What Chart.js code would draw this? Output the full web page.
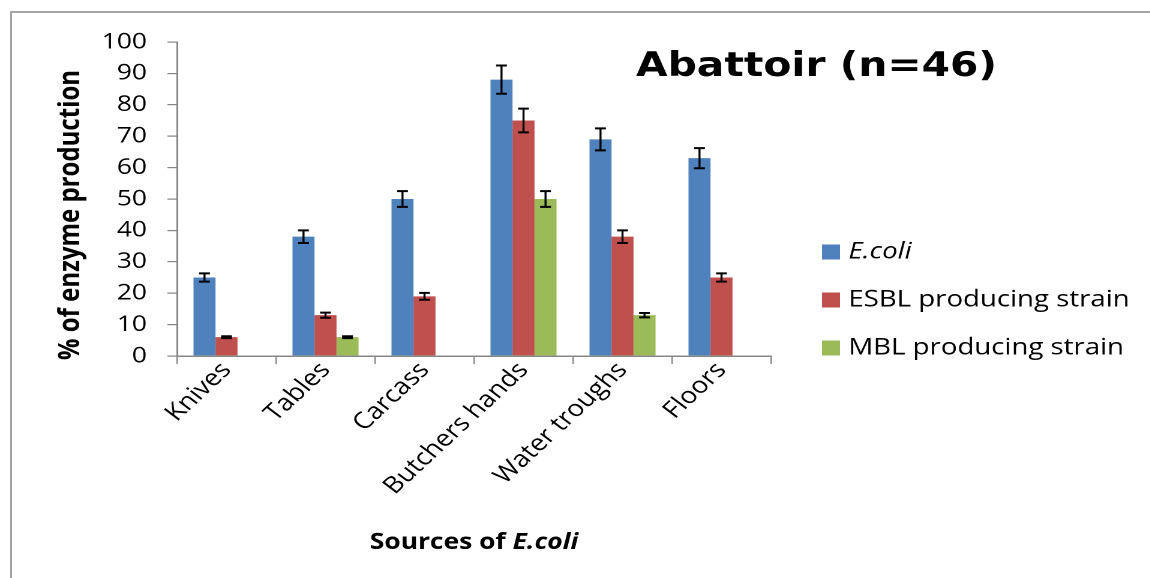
<!DOCTYPE html>
<html>
<head>
<meta charset="utf-8">
<script src="https://cdn.jsdelivr.net/npm/chart.js@4.4.1/dist/chart.umd.min.js"></script>
<style>
  html, body { margin: 0; padding: 0; background: #fff; overflow: hidden; }
  body { width: 1150px; height: 578px; position: relative; }
  #frame {
    position: absolute; left: 10px; top: 11px; width: 1200px; height: 600px;
    border-left: 2px solid #a3a3a3; border-top: 2px solid #a3a3a3;
  }
  /* the reference picture is stretched sideways, so is this one */
  #wrap {
    position: absolute; left: 0; top: 0; width: 958.33px; height: 578px;
    transform: scaleX(1.2); transform-origin: 0 0;
  }
</style>
</head>
<body>
<div id="frame"></div>
<div id="wrap"><canvas id="enzymeChart"></canvas></div>
<script>
const categories = ['Knives', 'Tables', 'Carcass', 'Butchers hands', 'Water troughs', 'Floors'];
const seriesNames = ['E.coli', 'ESBL producing strain', 'MBL producing strain'];
const ecoliValues = [25, 38, 50, 88, 69, 63];
const esblValues = [6, 13, 19, 75, 38, 25];
const mblValues = [0, 6, 0, 50, 13, 0];
const ecoliErrors = [1.3, 2, 2.5, 4.5, 3.5, 3.2];
const esblErrors = [0.3, 0.8, 1.1, 3.8, 2, 1.3];
const mblErrors = [0, 0.3, 0, 2.5, 0.7, 0];
const yMin = 0, yMax = 100, yStep = 10;

const colors = ['#4f81bd', '#c0504d', '#9bbb59'];
const FONT = '"Open Sans", sans-serif';

// error bars, titles and legend drawn on top
const extras = {
    id: 'extras',
    afterDatasetsDraw(chart) {
        const ctx = chart.ctx;
        const y = chart.scales.y;
        ctx.save();
        ctx.strokeStyle = '#000';
        chart.data.datasets.forEach((ds, i) => {
            const meta = chart.getDatasetMeta(i);
            meta.data.forEach((bar, j) => {
                const v = ds.data[j], e = ds.errors[j];
                if (!e) return;
                const top = y.getPixelForValue(v + e);
                const bot = y.getPixelForValue(v - e);
                ctx.lineWidth = 1.7;
                ctx.beginPath();
                ctx.moveTo(bar.x, top);
                ctx.lineTo(bar.x, bot);
                ctx.stroke();
                ctx.lineWidth = 2;
                ctx.beginPath();
                ctx.moveTo(bar.x - 4.5, top); ctx.lineTo(bar.x + 4.5, top);
                ctx.moveTo(bar.x - 4.5, bot); ctx.lineTo(bar.x + 4.5, bot);
                ctx.stroke();
            });
        });
        ctx.restore();
    },
    afterDraw(chart) {
        const ctx = chart.ctx;
        const area = chart.chartArea;
        ctx.save();
        ctx.fillStyle = '#000';

        // chart title
        ctx.font = 'bold 34px "DejaVu Sans"';
        ctx.textAlign = 'left';
        ctx.textBaseline = 'alphabetic';
        ctx.fillText('Abattoir (n=46)', 530, 76);

        // y axis title (sits a bit below the axis middle in the reference)
        ctx.save();
        ctx.translate(59, 215);
        ctx.rotate(-Math.PI / 2);
        ctx.textAlign = 'center';
        ctx.textBaseline = 'middle';
        ctx.font = 'bold 24px ' + FONT;
        ctx.fillText('% of enzyme production', 0, 0);
        ctx.restore();

        // legend
        ctx.textBaseline = 'middle';
        chart.data.datasets.forEach((ds, i) => {
            const cy = 252 + i * 48;
            ctx.fillStyle = ds.backgroundColor;
            ctx.fillRect(685, cy - 7.5, 15, 15);
            ctx.fillStyle = '#000';
            ctx.font = (i === 0 ? 'italic ' : '') + '23px ' + FONT;
            ctx.fillText(ds.label, 707, cy);
        });

        // x axis title: "Sources of " + italic "E.coli"
        ctx.textBaseline = 'alphabetic';
        const a = 'Sources of ', b = 'E.coli';
        ctx.font = 'bold 22px ' + FONT;
        const wa = ctx.measureText(a).width;
        ctx.font = 'italic bold 22px ' + FONT;
        const wb = ctx.measureText(b).width;
        const x0 = (area.left + area.right) / 2 - (wa + wb) / 2;
        ctx.font = 'bold 22px ' + FONT;
        ctx.fillText(a, x0, 549);
        ctx.font = 'italic bold 22px ' + FONT;
        ctx.fillText(b, x0 + wa, 549);
        ctx.restore();
    }
};

const ctx = document.getElementById('enzymeChart').getContext('2d');
const enzymeChart = new Chart(ctx, {
    type: 'bar',
    data: {
        labels: categories,
        datasets: [
            { label: seriesNames[0], data: ecoliValues, errors: ecoliErrors, backgroundColor: colors[0] },
            { label: seriesNames[1], data: esblValues, errors: esblErrors, backgroundColor: colors[1] },
            { label: seriesNames[2], data: mblValues, errors: mblErrors, backgroundColor: colors[2] }
        ]
    },
    options: {
        responsive: true,
        maintainAspectRatio: false,
        animation: false,
        devicePixelRatio: 2,
        layout: { padding: { left: 0, right: 315.8, top: 42, bottom: 0 } },
        datasets: { bar: { categoryPercentage: 0.667, barPercentage: 1.0 } },
        plugins: {
            legend: { display: false },
            tooltip: { enabled: false }
        },
        scales: {
            x: {
                grid: { drawOnChartArea: false, drawTicks: true, tickLength: 8, color: '#868686', offset: true, lineWidth: 1.2 },
                border: { color: '#868686', width: 1.5 },
                ticks: {
                    color: '#000', font: { family: FONT, size: 23 },
                    maxRotation: 48, minRotation: 48, autoSkip: false, padding: -7
                },
                afterFit: s => { s.height = 222; }
            },
            y: {
                min: yMin, max: yMax,
                grid: { drawOnChartArea: false, drawTicks: true, tickLength: 8, color: '#868686', lineWidth: 1.2 },
                border: { color: '#868686', width: 1.5 },
                ticks: { stepSize: yStep, color: '#000', font: { family: FONT, size: 22 }, padding: 17 },
                afterFit: s => { s.width = 147.5; }
            }
        }
    },
    plugins: [extras]
});
</script>
</body>
</html>
